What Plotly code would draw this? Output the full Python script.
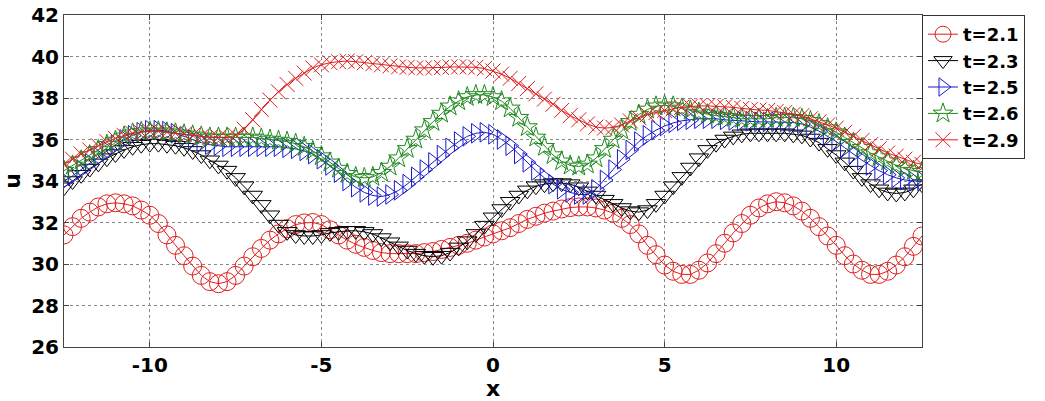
import numpy as np
import plotly.graph_objects as go

# x grid (sample positions of the markers)
x_vals = np.round(np.linspace(-12.5, 12.5, 101), 4)

u_t21 = [31.4, 31.8, 32.2, 32.5, 32.75, 32.9, 32.95, 32.9, 32.8, 32.6,
         32.35, 31.95, 31.4, 30.9, 30.4, 29.9, 29.45, 29.15, 29.05, 29.15,
         29.45, 29.9, 30.35, 30.75, 31.15, 31.45, 31.7, 31.9, 31.98, 32.0,
         31.9, 31.65, 31.4, 31.15, 30.95, 30.8, 30.65, 30.55, 30.5, 30.5,
         30.5, 30.5, 30.55, 30.6, 30.7, 30.8, 30.9, 31.0, 31.15, 31.3,
         31.45, 31.6, 31.75, 31.95, 32.15, 32.3, 32.45, 32.55, 32.65, 32.72,
         32.75, 32.75, 32.7, 32.6, 32.45, 32.2, 31.9, 31.45, 30.9, 30.45,
         29.95, 29.65, 29.5, 29.5, 29.7, 30.05, 30.5, 31.0, 31.5, 31.95,
         32.35, 32.7, 32.9, 33.0, 32.95, 32.8, 32.55, 32.2, 31.8, 31.35,
         30.9, 30.4, 30.0, 29.7, 29.5, 29.5, 29.65, 29.95, 30.35, 30.85,
         31.35]

u_t23 = [33.7, 34.0, 34.3, 34.6, 34.85, 35.1, 35.3, 35.5, 35.65, 35.75,
         35.8, 35.8, 35.75, 35.7, 35.6, 35.45, 35.25, 35.0, 34.75, 34.5,
         34.15, 33.75, 33.3, 32.85, 32.35, 31.9, 31.55, 31.4, 31.35, 31.35,
         31.4, 31.5, 31.55, 31.6, 31.6, 31.55, 31.45, 31.25, 31.05, 30.85,
         30.65, 30.5, 30.4, 30.35, 30.4, 30.55, 30.8, 31.1, 31.45, 31.85,
         32.25, 32.65, 33.0, 33.3, 33.55, 33.75, 33.85, 33.9, 33.9, 33.85,
         33.7, 33.5, 33.3, 33.1, 32.9, 32.7, 32.55, 32.5, 32.6, 32.9,
         33.3, 33.75, 34.2, 34.65, 35.1, 35.5, 35.8, 36.0, 36.15, 36.25,
         36.3, 36.3, 36.3, 36.3, 36.3, 36.25, 36.2, 36.05, 35.85, 35.55,
         35.25, 34.9, 34.5, 34.15, 33.85, 33.6, 33.45, 33.4, 33.45, 33.6,
         33.85]

u_t25 = [34.0, 34.25, 34.55, 34.85, 35.15, 35.45, 35.75, 36.0, 36.2, 36.35,
         36.45, 36.45, 36.4, 36.3, 36.15, 36.0, 35.85, 35.75, 35.7, 35.65,
         35.65, 35.65, 35.65, 35.65, 35.65, 35.65, 35.6, 35.55, 35.45, 35.3,
         35.05, 34.75, 34.4, 34.0, 33.7, 33.45, 33.3, 33.25, 33.35, 33.55,
         33.85, 34.2, 34.55, 34.9, 35.25, 35.6, 35.9, 36.15, 36.3, 36.35,
         36.25, 36.0, 35.7, 35.3, 34.9, 34.5, 34.15, 33.85, 33.6, 33.45,
         33.35, 33.35, 33.6, 34.05, 34.55, 35.05, 35.5, 35.9, 36.2, 36.45,
         36.65, 36.8, 36.9, 36.95, 37.0, 37.0, 37.0, 36.95, 36.92, 36.9,
         36.88, 36.85, 36.85, 36.85, 36.85, 36.82, 36.75, 36.6, 36.4, 36.15,
         35.9, 35.6, 35.3, 35.0, 34.75, 34.5, 34.3, 34.15, 34.05, 34.0,
         34.0]

u_t26 = [34.5, 34.75, 35.0, 35.25, 35.5, 35.75, 35.95, 36.15, 36.3, 36.38,
         36.4, 36.4, 36.35, 36.3, 36.25, 36.2, 36.15, 36.1, 36.1, 36.1,
         36.1, 36.1, 36.1, 36.05, 36.0, 35.95, 35.9, 35.8, 35.65, 35.45,
         35.2, 34.9, 34.6, 34.35, 34.2, 34.15, 34.2, 34.4, 34.7, 35.1,
         35.55, 36.0, 36.45, 36.85, 37.25, 37.6, 37.85, 38.05, 38.15, 38.15,
         38.05, 37.85, 37.5, 37.05, 36.6, 36.1, 35.65, 35.25, 34.95, 34.75,
         34.7, 34.8, 35.1, 35.55, 36.0, 36.45, 36.85, 37.2, 37.45, 37.6,
         37.65, 37.6, 37.5, 37.4, 37.3, 37.22, 37.15, 37.1, 37.05, 37.0,
         37.0, 37.0, 37.0, 37.05, 37.05, 37.05, 37.0, 36.9, 36.75, 36.55,
         36.35, 36.1, 35.85, 35.6, 35.35, 35.15, 34.95, 34.75, 34.6, 34.5,
         34.45]

u_t29 = [34.8, 35.05, 35.3, 35.5, 35.7, 35.9, 36.05, 36.2, 36.3, 36.35,
         36.4, 36.4, 36.35, 36.3, 36.25, 36.2, 36.15, 36.1, 36.1, 36.1,
         36.2, 36.5, 36.95, 37.45, 37.9, 38.3, 38.65, 38.95, 39.2, 39.45,
         39.6, 39.7, 39.75, 39.78, 39.75, 39.7, 39.65, 39.6, 39.55, 39.5,
         39.48, 39.45, 39.45, 39.45, 39.47, 39.5, 39.5, 39.5, 39.48, 39.42,
         39.3, 39.15, 38.95, 38.7, 38.45, 38.2, 37.95, 37.7, 37.4, 37.15,
         36.95, 36.75, 36.6, 36.55, 36.58, 36.7, 36.9, 37.05, 37.2, 37.3,
         37.4, 37.48, 37.55, 37.6, 37.62, 37.62, 37.6, 37.58, 37.55, 37.5,
         37.45, 37.42, 37.4, 37.35, 37.3, 37.22, 37.15, 37.0, 36.85, 36.7,
         36.55, 36.35, 36.15, 35.95, 35.75, 35.55, 35.35, 35.2, 35.05, 34.9,
         34.8]

series_names = ["t=2.1", "t=2.3", "t=2.5", "t=2.6", "t=2.9"]
series_vals = [u_t21, u_t23, u_t25, u_t26, u_t29]
colors = ["#e01f1f", "#000000", "#1a1acc", "#1f8a1f", "#e01f1f"]
symbols = ["circle-open", "triangle-down-open", "triangle-right-open", "star-open", "x-thin-open"]
sizes = [18, 17, 17, 15, 15]

x_ticks = [-10, -5, 0, 5, 10]
x_ticktext = ["-10", "-5", "0", "5", "10"]
y_ticks = [26, 28, 30, 32, 34, 36, 38, 40, 42]

fig = go.Figure()
for name, vals, c, s, sz in zip(series_names, series_vals, colors, symbols, sizes):
    assert len(vals) == len(x_vals), (name, len(vals))
    fig.add_trace(go.Scatter(
        x=x_vals, y=vals, name=name, mode="lines+markers",
        line=dict(color=c, width=1),
        marker=dict(symbol=s, size=sz, color=c, line=dict(color=c, width=1)),
    ))

bold = dict(family="DejaVu Sans", size=20, color="black", weight="bold")
title_font = dict(family="DejaVu Sans", size=22, color="black", weight="bold")
fig.update_layout(
    width=1045, height=401,
    margin=dict(l=64, r=123, t=15, b=54, autoexpand=False),
    paper_bgcolor="white", plot_bgcolor="white",
    legend=dict(x=1.0, y=1.0, xanchor="left", yanchor="top",
                bordercolor="#333333", borderwidth=1, bgcolor="white",
                font=dict(family="DejaVu Sans", size=18, color="black", weight="bold"),
                itemwidth=30, tracegroupgap=0),
    xaxis=dict(range=[-12.5, 12.5], tickvals=x_ticks, ticktext=x_ticktext,
               ticks="inside", ticklen=5, automargin=False,
               tickcolor="#444", showline=True, linecolor="#444", linewidth=1, mirror="ticks",
               showgrid=True, gridcolor="#888", griddash="dot", gridwidth=1, zeroline=False,
               tickfont=bold, title=dict(text="x", font=title_font, standoff=7)),
    yaxis=dict(range=[26, 42], tickvals=y_ticks, ticks="inside", ticklen=5, automargin=False,
               tickcolor="#444", showline=True, linecolor="#444", linewidth=1, mirror="ticks",
               showgrid=True, gridcolor="#888", griddash="dot", gridwidth=1, zeroline=False,
               tickfont=bold, title=dict(text="u", font=title_font, standoff=6)),
)

fig.write_html("out.html")
